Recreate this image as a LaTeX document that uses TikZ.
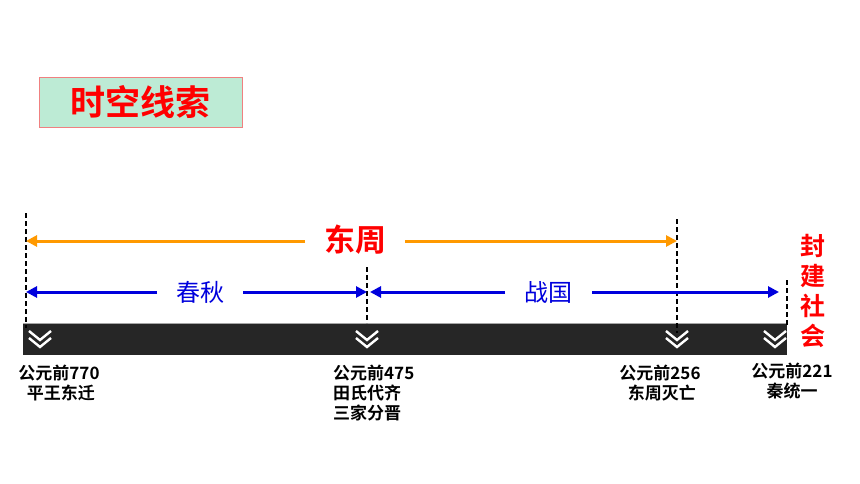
\documentclass[tikz,border=0pt]{standalone}
\usepackage{fontspec}
\setmainfont{Liberation Sans}
\newfontfamily\cjk{Noto Sans CJK SC}
\newfontfamily\cjkb{Noto Sans CJK SC Bold}
\usetikzlibrary{arrows.meta}
\definecolor{barcol}{HTML}{262626}
\definecolor{orangec}{HTML}{FF9900}
\definecolor{bluec}{HTML}{0000DD}
\definecolor{titlefill}{HTML}{BDEBD5}
\definecolor{titledraw}{HTML}{F08080}
\tikzset{
  tick/.style={black, line width=1.6pt, dash pattern=on 5pt off 3pt},
  orangearrow/.style={orangec, line width=3pt, -{Triangle[length=11pt,width=11pt]}},
  bluearrow/.style={bluec, line width=3pt, -{Triangle[length=11pt,width=11pt]}},
  datelabel/.style={font=\cjkb\fontsize{17}{20}\selectfont, inner sep=0pt, align=center},
  chevline/.style={white, line width=2.4pt, line join=miter},
  pics/chev/.style={code={
    \draw[chevline] (-11,-4) -- (0,5) -- (11,-4);
    \draw[chevline] (-11,-11) -- (0,-2) -- (11,-11);
  }}
}
\begin{document}
\begin{tikzpicture}[x=1pt,y=-1pt]
\useasboundingbox (0,0) rectangle (860,484);
\fill[white] (0,0) rectangle (860,484);
% title
\node[draw=titledraw, fill=titlefill, line width=0.8pt, minimum width=203pt, minimum height=50pt, inner sep=0pt, text=red, font=\cjkb\fontsize{35}{37}\selectfont] (title) at (140.5,102) {时空线索};
% bar
\fill[barcol] (23,323) rectangle (787,355);
\draw[gray!70, line width=0.8pt] (23,323.4) -- (787,323.4);
\pic at (40,342) {chev};
\pic at (367,342) {chev};
\pic at (677,342) {chev};
\pic at (775,342) {chev};
% tick coordinates
\coordinate (t1top) at (26,213);
\coordinate (t1bot) at (26,328);
\coordinate (t2top) at (367,267);
\coordinate (t2bot) at (367,323);
\coordinate (t3top) at (677,219);
\coordinate (t3bot) at (677,333);
\coordinate (t4top) at (787,280);
\coordinate (t4bot) at (787,325);
\draw[tick] (t1top) -- (t1bot);
\draw[tick] (t2top) -- (t2bot);
\draw[tick] (t3top) -- (t3bot);
\draw[tick] (t4top) -- (t4bot);
% Dong Zhou
\node[text=red, font=\cjkb\fontsize{31}{33}\selectfont, inner sep=0pt] (dongzhou) at (355,240) {东周};
\coordinate (oL) at (26,241);
\coordinate (oR) at (677,241);
\draw[orangearrow] (305,241) -- (oL);
\draw[orangearrow] (405,241) -- (oR);
% Chunqiu
\node[text=bluec, font=\cjk\fontsize{24}{26}\selectfont, inner sep=0pt] (chunqiu) at (200,292) {春秋};
\coordinate (bL) at (26,292);
\coordinate (bM1) at (367,292);
\coordinate (bM2) at (370,292);
\coordinate (bR) at (779,292);
\draw[bluearrow] (157,292) -- (bL);
\draw[bluearrow] (243,292) -- (bM1);
% Zhanguo
\node[text=bluec, font=\cjk\fontsize{24}{26}\selectfont, inner sep=0pt] (zhanguo) at (548,292) {战国};
\draw[bluearrow] (505,292) -- (bM2);
\draw[bluearrow] (592,292) -- (bR);
% fengjian shehui
\node[text=red, font=\cjkb\fontsize{25}{30}\selectfont, inner sep=0pt, align=center] (fengjian) at (813,291) {封\\建\\社\\会};
% date labels
\node[datelabel, anchor=north] (d1) at (59,365) {公元前770\\\ 平王东迁};
\node[datelabel, anchor=north west, align=left] (d2) at (333,365) {公元前475\\田氏代齐\\三家分晋};
\node[datelabel, anchor=north] (d3) at (660,365) {公元前256\\\ 东周灭亡};
\node[datelabel, anchor=north] (d4) at (792,363) {公元前221\\秦统一};
\end{tikzpicture}
\end{document}
